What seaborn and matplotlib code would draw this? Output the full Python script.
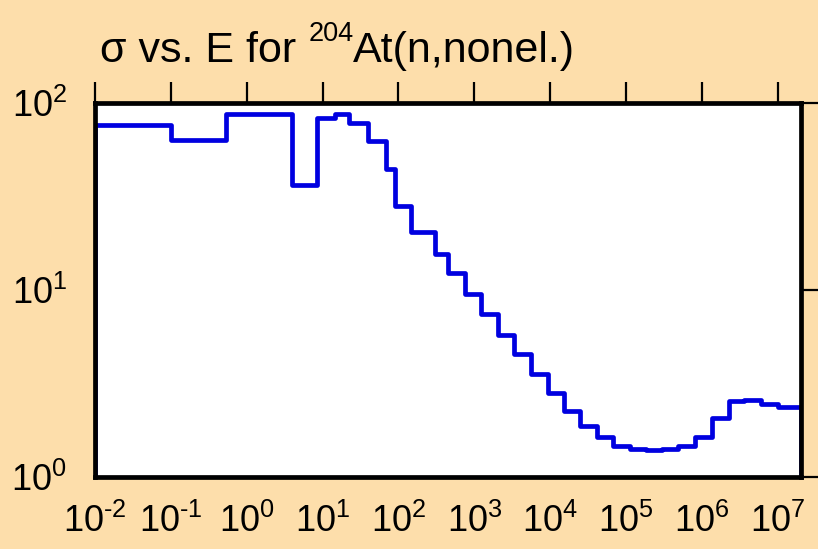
import matplotlib
matplotlib.use('Agg')
import matplotlib.pyplot as plt
import seaborn as sns
import numpy as np
from matplotlib.ticker import FuncFormatter, NullLocator

# Bin edges (eV) and cross sections (b)
edges = [1e-2, 1e-1, 0.54, 4.0, 8.5, 14.7, 22.6, 40, 67.5, 91, 148, 304, 450,
         753, 1236, 2050, 3360, 5570, 9230, 1.51e4, 2.48e4, 4.11e4, 6.74e4,
         1.13e5, 1.81e5, 3.0e5, 4.89e5, 8.09e5, 1.34e6, 2.27e6, 3.57e6,
         6.03e6, 1e7, 2e7]
sigma = [76.9, 63.4, 87.7, 36.4, 83.8, 87.7, 78.5, 62.8, 44.2, 28.3, 20.5,
         15.6, 12.4, 9.53, 7.50, 5.73, 4.58, 3.54, 2.82, 2.27, 1.87, 1.63,
         1.47, 1.41, 1.39, 1.42, 1.47, 1.63, 2.08, 2.56, 2.60, 2.47, 2.36]
xticks = [1e-2, 1e-1, 1e0, 1e1, 1e2, 1e3, 1e4, 1e5, 1e6, 1e7]
yticks = [1, 10, 100]

sns.set_style('white')
plt.rcParams['font.family'] = ['Liberation Sans', 'DejaVu Sans']
plt.rcParams['mathtext.fontset'] = 'custom'
plt.rcParams['mathtext.rm'] = 'Liberation Sans'
plt.rcParams['mathtext.it'] = 'Liberation Sans:italic'
plt.rcParams['mathtext.bf'] = 'Liberation Sans:bold'
plt.rcParams['text.color'] = 'black'
plt.rcParams['xtick.color'] = 'black'
plt.rcParams['ytick.color'] = 'black'

bg = '#fddeab'
fig = plt.figure(figsize=(8.18, 5.49), dpi=100, facecolor=bg)
ax = fig.add_axes([0.116, 0.131, 0.863, 0.681])
ax.set_facecolor('white')

# closed step outline: up from the floor at the first edge, down at the last
xs = [edges[0]] + edges[:-1] + [edges[-1], edges[-1]]
ys = [0.1] + sigma + [sigma[-1], 0.1]
sns.lineplot(x=xs, y=ys, ax=ax, estimator=None, sort=False,
             drawstyle='steps-post', color='#0000e0', linewidth=3.4)

ax.set_xscale('log')
ax.set_yscale('log')
ax.set_xlim(1e-2, 2e7)
ax.set_ylim(1, 100)


def pow10(v, pos):
    e = int(round(np.log10(v)))
    s = str(e).replace('-', '\u2010')
    return r'$\mathregular{10^{%s}}$' % s


ax.set_xticks(xticks)
ax.set_yticks(yticks)
ax.xaxis.set_minor_locator(NullLocator())
ax.yaxis.set_minor_locator(NullLocator())
ax.xaxis.set_major_formatter(FuncFormatter(pow10))
ax.yaxis.set_major_formatter(FuncFormatter(pow10))

for s in ax.spines.values():
    s.set_visible(True)
    s.set_linewidth(3.4)
    s.set_color('black')

ax.tick_params(axis='both', which='major', direction='out', length=15,
               width=1.6, labelsize=26, top=True, right=True,
               labeltop=False, labelright=False)
ax.tick_params(axis='x', pad=4)
ax.tick_params(axis='y', pad=5)
ax.set_xlabel('')
ax.set_ylabel('')

# title in pieces so the superscript can be small
fig.canvas.draw()
r = fig.canvas.get_renderer()
x0, ybase = 100 / 818, 1 - 62 / 549
t1 = fig.text(x0, ybase, 'σ vs. E for ', fontsize=31, ha='left', va='baseline')
w1 = t1.get_window_extent(r).width / 818
t2 = fig.text(x0 + w1, ybase + 21 / 549, '204', fontsize=19.5, ha='left', va='baseline')
w2 = t2.get_window_extent(r).width / 818
fig.text(x0 + w1 + w2, ybase, 'At(n,nonel.)', fontsize=31, ha='left', va='baseline')

fig.savefig('out.png', dpi=100, facecolor=bg)
